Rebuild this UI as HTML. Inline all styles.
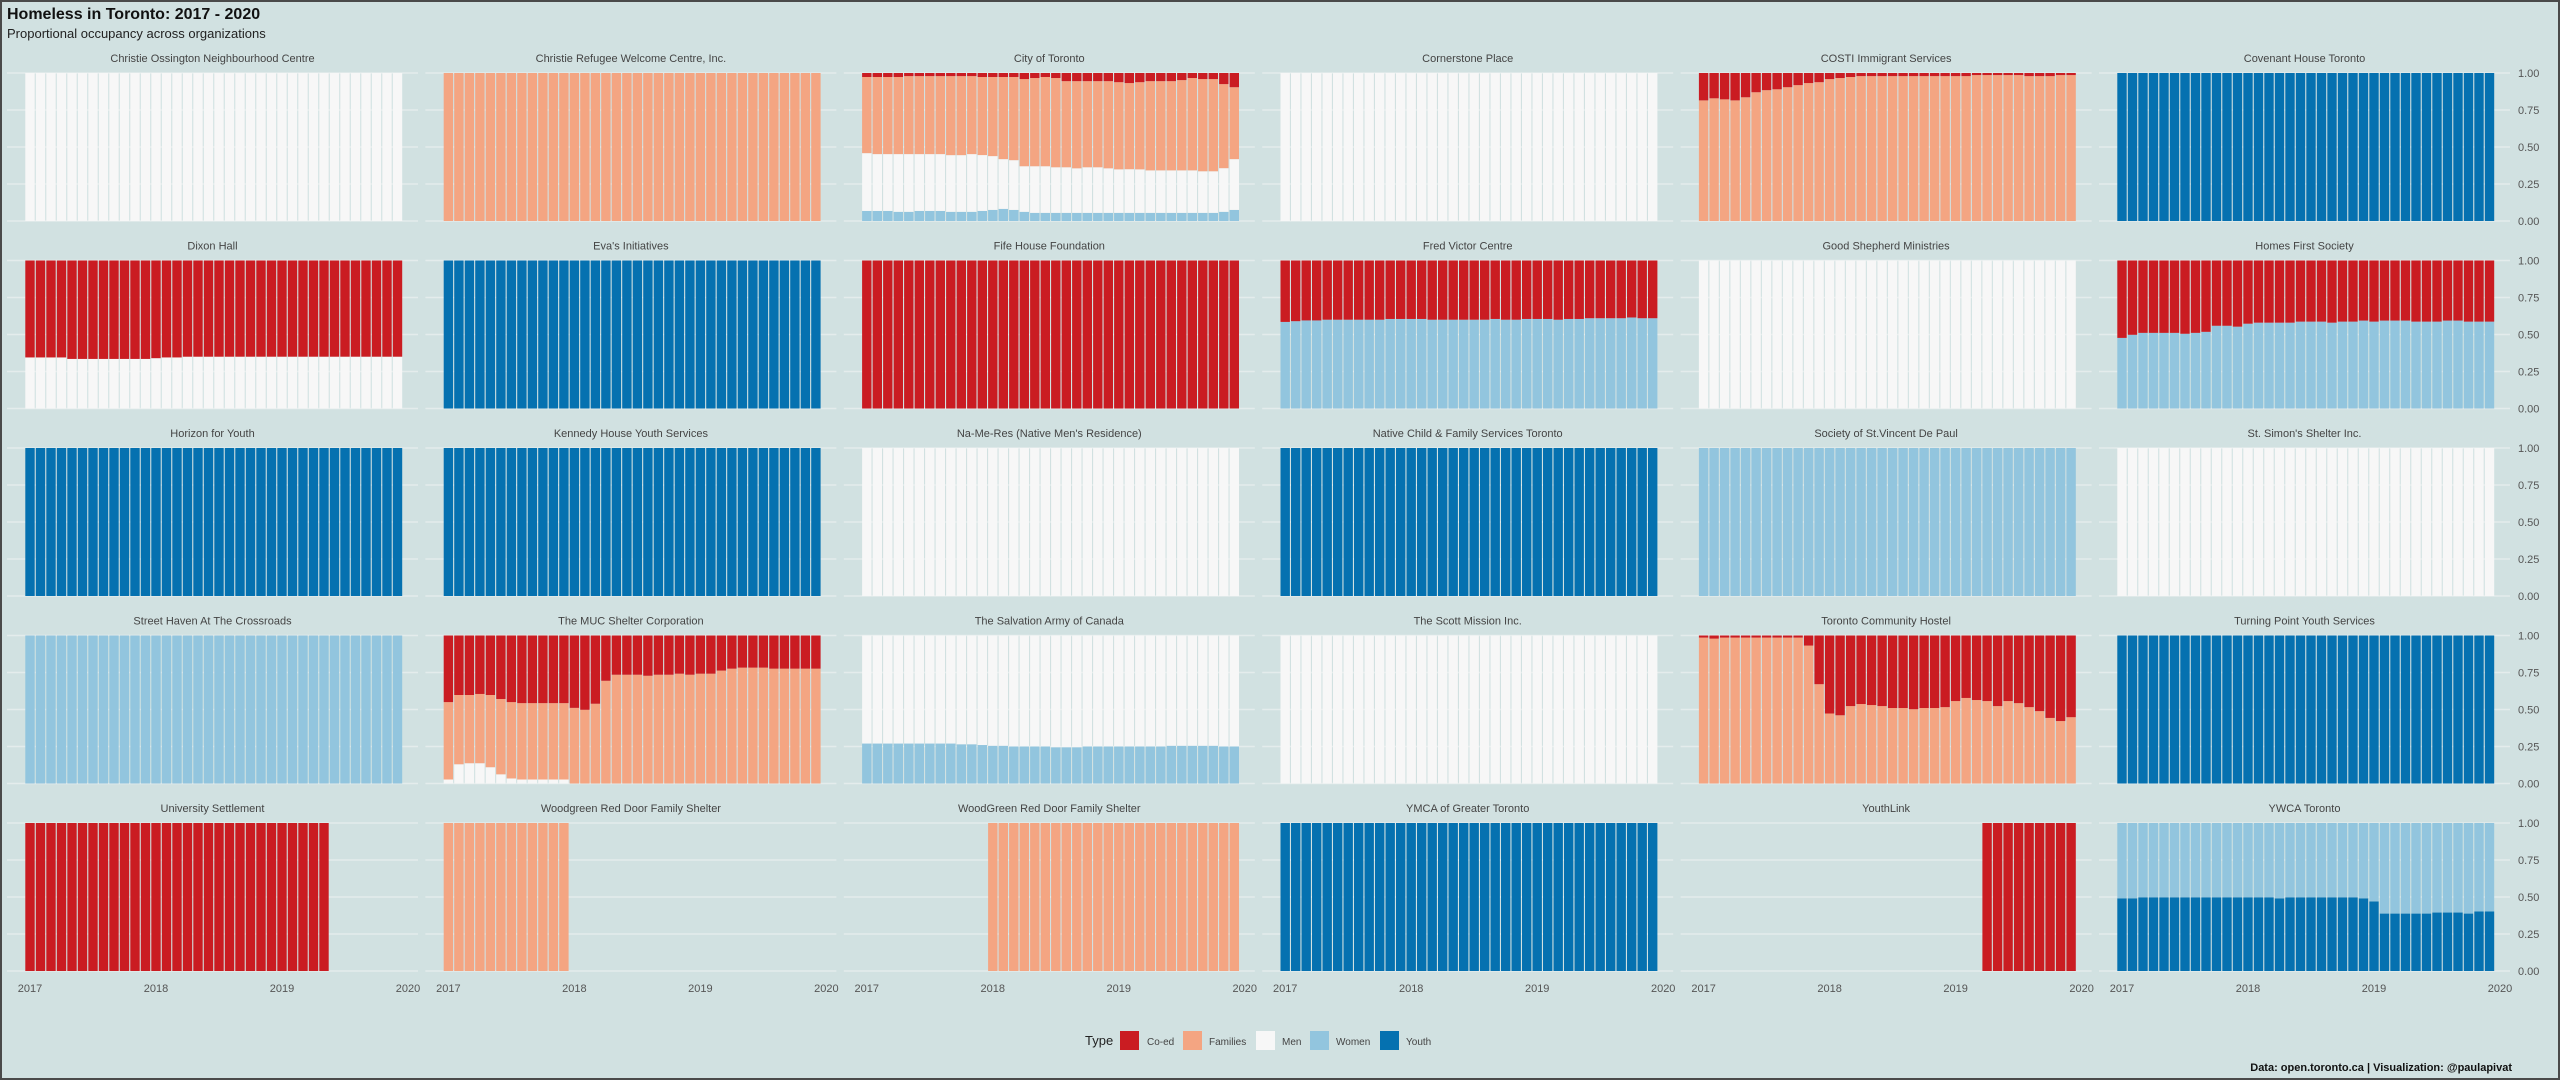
<!DOCTYPE html>
<html><head><meta charset="utf-8"><style>
html,body{margin:0;padding:0;}
body{width:2560px;height:1080px;overflow:hidden;background:#d1e1e1;}
#wrap{position:relative;width:2556px;height:1076px;border:2px solid #4a4a4a;background:#d1e1e1;}
svg{position:absolute;left:-2px;top:-2px;}
text{font-family:"Liberation Sans",Arial,sans-serif;}
</style></head><body>
<div id="wrap">
<svg id="chart" width="2560" height="1080">
<text x="7" y="19" font-size="16" font-weight="bold" fill="#111">Homeless in Toronto: 2017 - 2020</text>
<text x="7" y="38" font-size="13" fill="#222">Proportional occupancy across organizations</text>
<g id="panels"></g>
<g>
<text x="1085" y="1045" font-size="13" fill="#222">Type</text>
<rect x="1120" y="1031" width="19" height="19" fill="#ca1c22"/>
<text x="1147" y="1045" font-size="10" fill="#444">Co-ed</text>
<rect x="1183" y="1031" width="19" height="19" fill="#f4a582"/>
<text x="1209" y="1045" font-size="10" fill="#444">Families</text>
<rect x="1256" y="1031" width="19" height="19" fill="#f7f7f7"/>
<text x="1282" y="1045" font-size="10" fill="#444">Men</text>
<rect x="1310" y="1031" width="19" height="19" fill="#92c5de"/>
<text x="1336" y="1045" font-size="10" fill="#444">Women</text>
<rect x="1380" y="1031" width="19" height="19" fill="#0571b0"/>
<text x="1406" y="1045" font-size="10" fill="#444">Youth</text>
</g>
<text x="2512" y="1071" font-size="11" font-weight="bold" fill="#111" text-anchor="end">Data: open.toronto.ca | Visualization: @paulapivat</text>
</svg></div>
<script>
const orgs = ["Christie Ossington Neighbourhood Centre","Christie Refugee Welcome Centre, Inc.","City of Toronto","Cornerstone Place","COSTI Immigrant Services","Covenant House Toronto","Dixon Hall","Eva's Initiatives","Fife House Foundation","Fred Victor Centre","Good Shepherd Ministries","Homes First Society","Horizon for Youth","Kennedy House Youth Services","Na-Me-Res (Native Men's Residence)","Native Child & Family Services Toronto","Society of St.Vincent De Paul","St. Simon's Shelter Inc.","Street Haven At The Crossroads","The MUC Shelter Corporation","The Salvation Army of Canada","The Scott Mission Inc.","Toronto Community Hostel","Turning Point Youth Services","University Settlement","Woodgreen Red Door Family Shelter","WoodGreen Red Door Family Shelter","YMCA of Greater Toronto","YouthLink","YWCA Toronto"];
const yearTicks = ["2017","2018","2019","2020"];
const yTicks = [0,0.25,0.5,0.75,1];
const yTickLabels = ["0.00","0.25","0.50","0.75","1.00"];
const types = ["coed","families","men","women","youth"];
const colors = {coed:"#ca1c22",families:"#f4a582",men:"#f7f7f7",women:"#92c5de",youth:"#0571b0"};

const ALL = [1,1,1,1,1,1,1,1,1,1,1,1,1,1,1,1,1,1,1,1,1,1,1,1,1,1,1,1,1,1,1,1,1,1,1,1];
const uniSettlement = [1,1,1,1,1,1,1,1,1,1,1,1,1,1,1,1,1,1,1,1,1,1,1,1,1,1,1,1,1,0,0,0,0,0,0,0];
const woodgreen2017 = [1,1,1,1,1,1,1,1,1,1,1,1,0,0,0,0,0,0,0,0,0,0,0,0,0,0,0,0,0,0,0,0,0,0,0,0];
const woodgreen2018on = [0,0,0,0,0,0,0,0,0,0,0,0,1,1,1,1,1,1,1,1,1,1,1,1,1,1,1,1,1,1,1,1,1,1,1,1];
const youthLink = [0,0,0,0,0,0,0,0,0,0,0,0,0,0,0,0,0,0,0,0,0,0,0,0,0,0,0,1,1,1,1,1,1,1,1,1];

const cityCoed = [.027,.027,.027,.027,.021,.021,.021,.021,.021,.021,.021,.027,.027,.027,.027,.041,.034,.027,.034,.055,.055,.055,.055,.055,.062,.068,.062,.055,.055,.055,.048,.034,.041,.041,.075,.096];
const cityFamilies = [.514,.521,.521,.521,.527,.527,.527,.527,.534,.534,.527,.527,.534,.555,.562,.589,.596,.603,.603,.582,.589,.582,.582,.589,.589,.582,.589,.603,.603,.603,.610,.624,.623,.623,.568,.486];
const cityMen = [.390,.384,.384,.390,.390,.384,.384,.384,.383,.383,.390,.377,.363,.336,.336,.308,.315,.315,.308,.308,.301,.308,.308,.301,.294,.295,.294,.287,.287,.287,.287,.287,.281,.281,.295,.343];
const cityWomen = [.068,.068,.068,.062,.062,.068,.068,.068,.062,.062,.062,.068,.075,.082,.075,.062,.055,.055,.055,.055,.055,.055,.055,.055,.055,.055,.055,.055,.055,.055,.055,.055,.055,.055,.062,.075];

const costiCoed = [.185,.171,.178,.185,.164,.130,.116,.110,.096,.082,.068,.062,.041,.034,.027,.021,.021,.021,.021,.021,.021,.021,.021,.021,.021,.021,.014,.014,.014,.014,.014,.021,.021,.021,.014,.014];
const costiFamilies = [.815,.829,.822,.815,.836,.870,.884,.890,.904,.918,.932,.938,.959,.966,.973,.979,.979,.979,.979,.979,.979,.979,.979,.979,.979,.979,.986,.986,.986,.986,.986,.979,.979,.979,.986,.986];

const dixonCoed = [.655,.655,.655,.655,.665,.665,.665,.665,.665,.665,.665,.665,.66,.655,.655,.65,.65,.65,.65,.65,.65,.65,.65,.65,.65,.65,.65,.65,.65,.65,.65,.65,.65,.65,.65,.65];
const dixonMen = [.345,.345,.345,.345,.335,.335,.335,.335,.335,.335,.335,.335,.34,.345,.345,.35,.35,.35,.35,.35,.35,.35,.35,.35,.35,.35,.35,.35,.35,.35,.35,.35,.35,.35,.35,.35];

const fredCoed = [.415,.41,.405,.405,.40,.40,.40,.40,.40,.40,.395,.395,.395,.395,.40,.40,.40,.40,.40,.40,.395,.40,.40,.395,.395,.395,.40,.395,.395,.39,.39,.39,.39,.385,.39,.39];
const fredWomen = [.585,.59,.595,.595,.60,.60,.60,.60,.60,.60,.605,.605,.605,.605,.60,.60,.60,.60,.60,.60,.605,.60,.60,.605,.605,.605,.60,.605,.605,.61,.61,.61,.61,.615,.61,.61];

const homesCoed = [.523,.502,.489,.489,.489,.489,.495,.489,.482,.441,.441,.447,.427,.420,.420,.420,.420,.413,.413,.413,.420,.413,.413,.406,.413,.406,.406,.406,.413,.413,.413,.406,.406,.413,.413,.413];
const homesWomen = [.477,.498,.511,.511,.511,.511,.505,.511,.518,.559,.559,.553,.573,.580,.580,.580,.580,.587,.587,.587,.580,.587,.587,.594,.587,.594,.594,.594,.587,.587,.587,.594,.594,.587,.587,.587];

const mucCoed = [.450,.402,.402,.395,.402,.429,.450,.457,.457,.457,.457,.457,.489,.502,.461,.306,.265,.265,.265,.272,.265,.265,.258,.265,.258,.258,.237,.224,.217,.217,.217,.224,.224,.224,.224,.224];
const mucFamilies = [.523,.468,.461,.468,.488,.509,.516,.516,.516,.516,.516,.516,.511,.498,.539,.694,.735,.735,.735,.728,.735,.735,.742,.735,.742,.742,.763,.776,.783,.783,.783,.776,.776,.776,.776,.776];
const mucMen = [.027,.130,.137,.137,.110,.062,.034,.027,.027,.027,.027,.027,0,0,0,0,0,0,0,0,0,0,0,0,0,0,0,0,0,0,0,0,0,0,0,0];

const salvMen = [.73,.73,.73,.73,.73,.73,.73,.73,.73,.735,.735,.74,.745,.745,.75,.75,.75,.75,.755,.755,.755,.75,.75,.75,.75,.75,.75,.75,.75,.745,.745,.745,.745,.745,.75,.75];
const salvWomen = [.27,.27,.27,.27,.27,.27,.27,.27,.27,.265,.265,.26,.255,.255,.25,.25,.25,.25,.245,.245,.245,.25,.25,.25,.25,.25,.25,.25,.25,.255,.255,.255,.255,.255,.25,.25];

const tchCoed = [.014,.021,.014,.014,.014,.014,.014,.014,.014,.014,.068,.329,.527,.539,.477,.463,.470,.477,.490,.490,.498,.490,.490,.484,.443,.422,.436,.443,.477,.443,.457,.484,.511,.557,.578,.552];
const tchFamilies = [.986,.979,.986,.986,.986,.986,.986,.986,.986,.986,.932,.671,.473,.461,.523,.537,.530,.523,.510,.510,.502,.510,.510,.516,.557,.578,.564,.557,.523,.557,.543,.516,.489,.443,.422,.448];

const ywcaWomen = [.509,.509,.502,.502,.502,.502,.502,.502,.502,.502,.502,.502,.502,.502,.502,.509,.502,.502,.502,.502,.502,.502,.502,.509,.530,.612,.612,.612,.612,.612,.605,.605,.605,.612,.598,.598];
const ywcaYouth = [.491,.491,.498,.498,.498,.498,.498,.498,.498,.498,.498,.498,.498,.498,.498,.491,.498,.498,.498,.498,.498,.498,.498,.491,.470,.388,.388,.388,.388,.388,.395,.395,.395,.388,.402,.402];

const series = [
 {men:ALL},{families:ALL},{coed:cityCoed,families:cityFamilies,men:cityMen,women:cityWomen},{men:ALL},
 {coed:costiCoed,families:costiFamilies},{youth:ALL},{coed:dixonCoed,men:dixonMen},{youth:ALL},
 {coed:ALL},{coed:fredCoed,women:fredWomen},{men:ALL},{coed:homesCoed,women:homesWomen},
 {youth:ALL},{youth:ALL},{men:ALL},{youth:ALL},{women:ALL},{men:ALL},{women:ALL},
 {coed:mucCoed,families:mucFamilies,men:mucMen},{men:salvMen,women:salvWomen},{men:ALL},
 {coed:tchCoed,families:tchFamilies},{youth:ALL},{coed:uniSettlement},{families:woodgreen2017},
 {families:woodgreen2018on},{youth:ALL},{coed:youthLink},{women:ywcaWomen,youth:ywcaYouth}
];

const NS="http://www.w3.org/2000/svg";
const g=document.getElementById('panels');
const PW=411, PH=148, colPitch=418.4, rowPitch=187.5;
function mk(tag,attrs,parent){const e=document.createElementNS(NS,tag);for(const k in attrs)e.setAttribute(k,attrs[k]);parent.appendChild(e);return e;}
function panelLeft(c){return 7+c*colPitch;}
function panelTop(r){return 73+r*rowPitch;}
function xScale(c,m){return panelLeft(c)+23+m*10.5;}
function yScale(r,v){return panelTop(r)+PH*(1-v);}
const barW=9.4;
const stackOrder=["youth","women","men","families","coed"];

orgs.forEach((name,i)=>{
  const c=i%6, r=Math.floor(i/6);
  const pg=mk('g',{},g);
  
  
  const t=mk('text',{x:panelLeft(c)+PW/2,y:panelTop(r)-11,'font-size':11,fill:'#444','text-anchor':'middle'},pg);
  t.textContent=name;
  
  
  yTicks.forEach((v,k)=>{
    const ln=mk('line',{x1:panelLeft(c),x2:panelLeft(c)+PW,y1:yScale(r,v),y2:yScale(r,v),stroke:'#e4ecec','stroke-width':1.5},pg);
    
    
    if(c===5){
      const lt=mk('text',{x:2518,y:yScale(r,v)+4,'font-size':11,fill:'#555'},pg);
      lt.textContent=yTickLabels[k];
      
      
    }
  });
  const s=series[i];
  for(let m=0;m<36;m++){
    let total=0;
    stackOrder.forEach(tp=>{if(s[tp])total+=s[tp][m];});
    if(total<=0)continue;
    let cum=0;
    stackOrder.forEach(tp=>{
      if(!s[tp])return;
      const v=s[tp][m]/total;
      if(v<=0)return;
      const y1=yScale(r,cum+v), y0=yScale(r,cum);
      const rc=mk('rect',{x:xScale(c,m)-barW/2,y:y1,width:barW,height:y0-y1,fill:colors[tp]},pg);
      
      
      cum+=v;
    });
  }
  if(r===4){
    yearTicks.forEach((lab,k)=>{
      const xt=mk('text',{x:xScale(c,k*12),y:992,'font-size':11,fill:'#555','text-anchor':'middle'},pg);
      xt.textContent=lab;
      
      
    });
  }
});
</script>
</body></html>
